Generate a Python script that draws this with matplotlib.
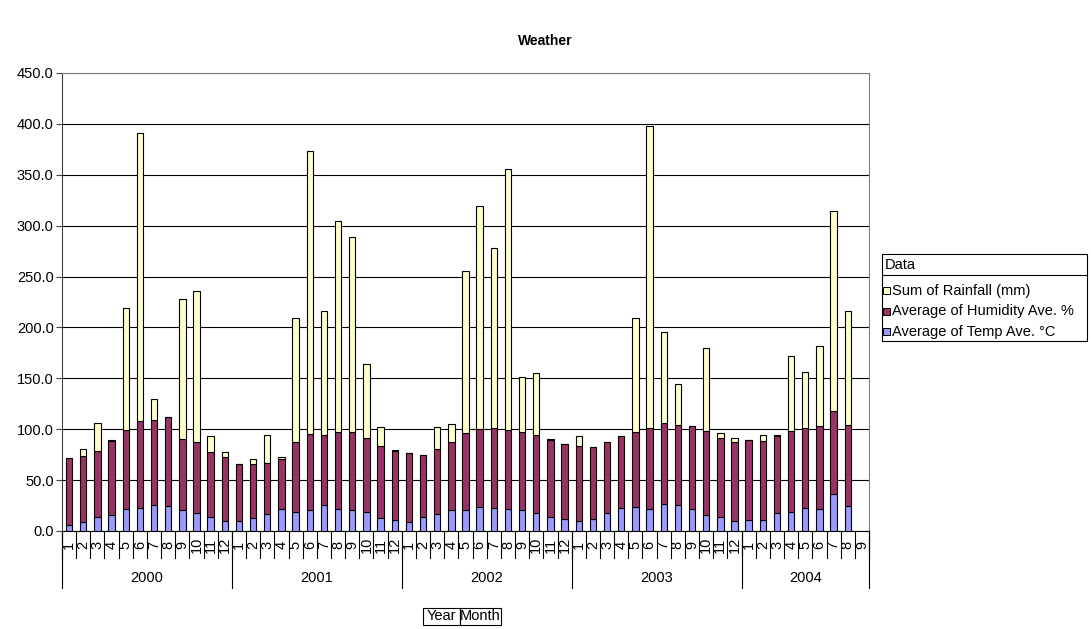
import numpy as np
import matplotlib.pyplot as plt
from matplotlib.transforms import blended_transform_factory
from matplotlib.patches import Rectangle
from matplotlib.lines import Line2D

plt.rcParams['font.family'] = ['Liberation Sans', 'DejaVu Sans']

# pivot: Year / Month
years = ['2000', '2001', '2002', '2003', '2004']
months_per_year = [12, 12, 12, 12, 9]

temp_ave = [
    6.2, 8.8, 13.4, 15.7, 21.5, 22.8, 25.1, 24.5, 20.6, 17.9, 14.0, 10.1,
    10.1, 12.7, 16.7, 21.9, 18.6, 20.6, 25.1, 21.9, 20.6, 18.2, 12.7, 11.1,
    8.8, 13.7, 16.3, 20.9, 20.2, 23.1, 22.5, 21.9, 20.6, 17.6, 14.0, 11.4,
    9.4, 11.8, 17.3, 22.5, 23.1, 21.2, 26.1, 25.5, 21.9, 16.0, 13.7, 9.4,
    10.8, 10.8, 17.3, 18.6, 22.5, 21.9, 36.3, 24.5, np.nan,
]
humidity_ave = [
    66.0, 65.0, 65.6, 72.5, 77.8, 85.2, 83.7, 87.9, 69.9, 69.3, 63.7, 62.7,
    56.2, 53.0, 50.3, 49.3, 69.2, 74.8, 69.0, 75.2, 76.5, 73.3, 70.6, 67.3,
    67.7, 61.4, 64.4, 66.9, 76.5, 76.9, 78.5, 77.4, 76.8, 76.8, 75.8, 74.5,
    74.5, 70.6, 70.2, 70.6, 74.3, 79.8, 79.8, 78.7, 81.0, 82.0, 78.1, 78.1,
    78.4, 77.7, 76.1, 79.4, 78.5, 81.0, 81.9, 79.4, np.nan,
]
rainfall_sum = [
    0.0, 6.6, 26.9, 1.6, 119.9, 283.2, 20.6, 0.0, 137.0, 148.7, 15.4, 5.2,
    0.0, 5.5, 27.4, 1.6, 121.0, 277.7, 122.5, 207.4, 191.7, 72.2, 19.2, 1.0,
    0.0, 0.0, 21.3, 17.1, 159.2, 219.6, 177.4, 256.2, 53.9, 60.5, 0.7, 0.0,
    9.5, 0.0, 0.0, 0.0, 111.4, 297.3, 89.2, 40.2, 0.0, 81.4, 4.9, 4.3,
    0.0, 5.9, 1.0, 74.4, 54.9, 78.5, 196.1, 112.7, np.nan,
]

series = ['Sum of Rainfall (mm)', 'Average of Humidity Ave. %', 'Average of Temp Ave. °C']
colors = ['#FFFFCC', '#993366', '#9999FF']

W, H = 1091, 629
fx = lambda px: px / W
fy = lambda py: 1 - py / H
fs = 10.5

fig = plt.figure(figsize=(W / 100, H / 100), dpi=100)
ax = fig.add_axes([fx(62), fy(531), fx(869) - fx(62), fy(73) - fy(531)])

temp = np.array(temp_ave)
hum = np.array(humidity_ave)
rain = np.array(rainfall_sum)
x = np.arange(len(temp))
bw = 0.45
kw = dict(edgecolor='black', linewidth=0.8, zorder=3)
ax.bar(x, temp, bw, color=colors[2], **kw)
ax.bar(x, hum, bw, bottom=temp, color=colors[1], **kw)
ax.bar(x, rain, bw, bottom=temp + hum, color=colors[0], **kw)

ax.set_xlim(-0.5, len(x) - 0.5)
ax.set_ylim(0, 450)
ax.set_yticks(np.arange(0, 451, 50))
ax.set_yticklabels([f'{v:.1f}' for v in np.arange(0, 451, 50)], fontsize=fs)
ax.tick_params(axis='y', length=4, width=0.8, color='#404040', pad=2)
ax.set_xticks([])
ax.yaxis.grid(True, color='black', linewidth=0.8)
ax.set_axisbelow(True)
for s in ['top', 'right']:
    ax.spines[s].set_color('#808080')
ax.spines['left'].set_color('#404040')
ax.spines['bottom'].set_color('black')
for s in ax.spines.values():
    s.set_linewidth(0.8)

# two-level category axis: month row, then year row
trans = blended_transform_factory(ax.transData, fig.transFigure)
i = 0
year_edges = [-0.5]
for yr, nm in zip(years, months_per_year):
    for m in range(1, nm + 1):
        ax.text(i, fy(545), str(m), rotation=90, ha='center', va='center',
                fontsize=fs, transform=trans)
        i += 1
    ax.text(i - nm / 2 - 0.5, fy(578), yr, ha='center', va='center',
            fontsize=fs, transform=trans)
    year_edges.append(i - 0.5)
for k in range(len(x) + 1):
    fig.add_artist(Line2D([k - 0.5] * 2, [fy(531), fy(558)], transform=trans,
                          color='black', linewidth=0.8))
for e in year_edges:
    fig.add_artist(Line2D([e] * 2, [fy(531), fy(588)], transform=trans,
                          color='black', linewidth=0.8))

fig.text(fx(545), fy(41), 'Weather', fontsize=10, fontweight='bold',
         ha='center', va='center')

# legend box
lx0, lx1, ly0, ly1 = 882, 1087, 254, 341
fig.add_artist(Rectangle((fx(lx0), fy(ly1)), fx(lx1) - fx(lx0), fy(ly0) - fy(ly1),
                         transform=fig.transFigure, fill=False,
                         edgecolor='black', linewidth=0.8))
fig.add_artist(Line2D([fx(lx0), fx(lx1)], [fy(275), fy(275)],
                      transform=fig.transFigure, color='black', linewidth=0.8))
fig.text(fx(lx0 + 3), fy(265), 'Data', fontsize=fs, ha='left', va='center')
for row, (name, c) in enumerate(zip(series, colors)):
    yc = 291 + row * 20.3
    fig.add_artist(Rectangle((fx(lx0 + 1), fy(yc + 3.5)), fx(7), fy(0) - fy(7),
                             transform=fig.transFigure, facecolor=c,
                             edgecolor='black', linewidth=0.7))
    fig.text(fx(lx0 + 10), fy(yc), name, fontsize=fs, ha='left', va='center')

# field buttons
bx = [423, 460, 501]
for (a, b), label in zip(zip(bx[:-1], bx[1:]), ['Year', 'Month']):
    fig.add_artist(Rectangle((fx(a), fy(625)), fx(b) - fx(a), fy(608) - fy(625),
                             transform=fig.transFigure, fill=False,
                             edgecolor='black', linewidth=0.8))
    fig.text(fx((a + b) / 2), fy(616.5), label, fontsize=fs, ha='center', va='center')

fig.savefig('out.png', dpi=100)
